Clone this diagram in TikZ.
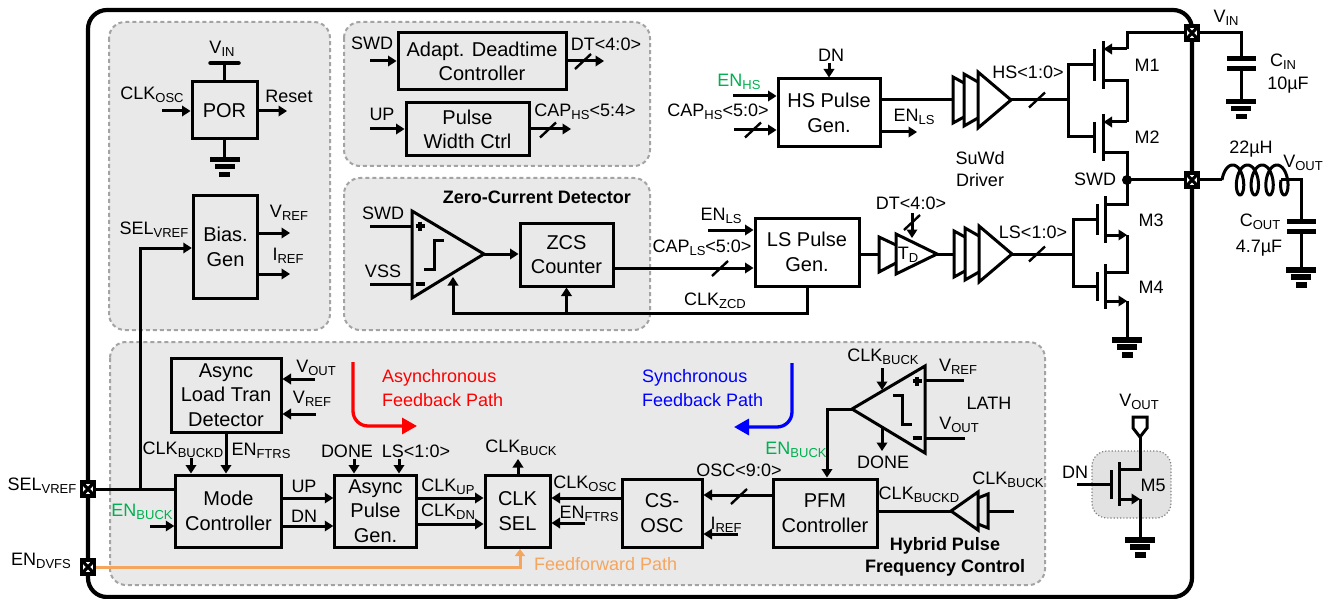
\documentclass[tikz,border=0pt]{standalone}
\usepackage{fontspec}
\setmainfont{Liberation Sans}
\usetikzlibrary{arrows.meta, calc}
\definecolor{panelgray}{HTML}{E9E9E9}
\definecolor{dashgray}{HTML}{A3A3A3}
\definecolor{mfivegray}{HTML}{E2E2E2}
\definecolor{engreen}{HTML}{00B050}
\definecolor{ffwdorange}{HTML}{F6A55E}
\newcommand{\ssub}[1]{{\fontsize{13}{13}\selectfont\raisebox{-2.8pt}{#1}}}
\tikzset{
  wire/.style={line width=3pt},
  sig/.style={line width=3pt, -{Triangle[length=8.5pt,width=10.5pt]}},
  panel/.style={draw=dashgray, fill=panelgray, line width=2pt, dash pattern=on 4pt off 3pt, rounded corners=16pt},
  blockbox/.style={draw, line width=3pt, inner sep=0pt, align=center, font=\fontsize{20}{24.5}\selectfont},
  lab/.style={inner sep=0pt, align=center, font=\fontsize{18}{21.5}\selectfont},
  boldlab/.style={inner sep=0pt, align=center, font=\fontsize{18}{22}\selectfont\bfseries},
  padbox/.style={draw, fill=white, line width=3.2pt, minimum width=13pt, minimum height=14pt, inner sep=0pt,
    path picture={\draw[line width=3.2pt] (path picture bounding box.north west) -- (path picture bounding box.south east)
      (path picture bounding box.north east) -- (path picture bounding box.south west);}},
  gndsym/.pic={
    \fill (-15,0) rectangle (15,5.5);
    \fill (-10,7) rectangle (10,12.5);
    \fill (-5.5,15) rectangle (5.5,20.5);
  },
  busmark/.pic={\draw[line width=2.4pt] (-8,7.5) -- (8,-7.5);},
  capsym/.pic={
    \fill (-14.5,-2.5) rectangle (14.5,2.5);
    \fill (-14.5,7.5) rectangle (14.5,12.5);
  },
  drivbuf/.pic={
    \draw[wire, line join=miter] (-33,-28) -- (0,0) -- (-33,28) -- cycle;
    \draw[wire] (-33,-18) -- (-47,-26) -- (-47,26) -- (-33,18);
    \draw[wire] (-47,-17) -- (-58,-23) -- (-58,23) -- (-47,17);
  },
}
\begin{document}
\begin{tikzpicture}[x=1pt, y=-1pt]
  \useasboundingbox (0,0) rectangle (1326,599);
  % chip outline and shaded groups
  \draw[line width=4.2pt, rounded corners=19pt] (88,10) rectangle (1192,597);
  \draw[panel] (109,22) rectangle (330,330);
  \draw[panel] (344,22) rectangle (650,166);
  \draw[panel] (344,178) rectangle (650,330);
  \draw[panel] (110,342) rectangle (1045,585);
  \draw[draw=gray, fill=mfivegray, line width=1.2pt, dotted, rounded corners=15pt] (1092,451) rectangle (1171,518);

  % blocks
  \foreach \name/\cx/\cy/\bw/\bh/\txt in {
    por/224.5/110.5/65/57/{POR},
    bias/225.5/247/64.5/102/{Bias.\\Gen},
    adapt/482/61.5/168/57/{Adapt. Deadtime\\Controller},
    pulsewd/467.5/129.5/123/53/{Pulse\\Width Ctrl},
    zcs/566.5/254.5/93/63/{ZCS\\Counter},
    hspulse/829/113/102/68/{HS Pulse\\Gen.},
    lspulse/807/252/104/68/{LS Pulse\\Gen.},
    loaddet/226/395/110/74/{Async\\Load Tran\\Detector},
    mode/228.5/511/105.5/72/{Mode\\Controller},
    asyncgen/375.5/511/81.5/72/{Async\\Pulse\\Gen.},
    clksel/517.5/511/65/72/{CLK\\SEL},
    csosc/662/513/80/68/{CS-\\OSC},
    pfm/825/513/104/68/{PFM\\Controller}}{
    \node[blockbox, minimum width=\bw pt, minimum height=\bh pt] (\name) at (\cx,\cy) {\txt};
  }

  % free ends and turning points
  \foreach \name/\x/\y in {
    cVinBar/224.5/63, cPorGnd/224.5/157, cClkOsc/162/111, cReset/287/111,
    cBiasIn/140/248, cVref/290/233, cIref/290/274,
    cAdSwd/370/61, cAdDt/604/61, cPwUp/370/129, cPwCap/571/129,
    cCmpP/370/226, cCmpPi/412/226, cCmpM/370/284, cCmpMi/412/284, cCmpTip/484/254,
    cZcsOut/613/268, cZcdLow/807/313, cZcdCmp/453/313, cZcdUp/453/277, cZcdZcs/566.5/313,
    cLsEn/708/230, cHsDn/829/63, cHsEn/733/96, cHsCap/734/130, cHsEnLs/917/132, cHsOut/880/100,
    cHsDrv/1011/100, cHsGate/1068/100, cLsOut/859/254, cTdIn/879/254, cTdTip/937/254, cLsDrvIn/954/254,
    cLsDrv/1012/254, cLsGate/1073/254, cDtTop/912/213, cDtEnd/912/238,
    cVoutLd/315/379, cVrefLd/316/414, cBuckd/191/458, cModeIn/140/489, cEnBuck/150/526,
    cDone/354/459, cLsIn/399/459, cUp/281/498, cDn/281/526, cClkUp/416/498, cClkDn/416/524,
    cClkBuck/518/459, cOscSel/702/498, cFtrs/585/523, cPfmOsc/773/495, cIrefIn/738/534,
    cFfCorner/520/567, cFfEnd/520/549,
    cLatTip/852/409, cLatTurn/827/409, cLatRef/964/380, cLatRefi/925/380, cLatOut/965/438, cLatOuti/925/438,
    cLatClk/882/368, cLatClkE/882/390, cLatDone/882/428, cLatDoneE/882/451,
    cPfmEast/877/511, cBufTip/951/511, cBufIn/988/511, cBufEnd/1014/511,
    cCinTop/1241/33, cCin/1241/59, cCinGnd/1241/99, cLa/1222/180, cLb/1281/180, cCoutTop/1301/180, cCout/1301/221, cCoutGnd/1301/267,
    cMfGate/1077/484, cMfGatei/1111/484}{
    \coordinate (\name) at (\x,\y);
  }

  % pads on the chip edge
  \node[padbox] (padsel) at (88,489) {};
  \node[padbox] (paddvfs) at (88,567) {};
  \node[padbox] (padvin) at (1192,33) {};
  \node[padbox] (padswd) at (1192,180) {};

  % power on reset and bias
  \draw[wire] (por.north) -- (cVinBar);
  \draw[line width=4.5pt, line cap=round] ($(cVinBar)+(-14,0)$) -- ($(cVinBar)+(14,0)$);
  \draw[wire] (por.south) -- (cPorGnd);
  \pic at (cPorGnd) {gndsym};
  \draw[sig] (cClkOsc) -- (por.west |- cClkOsc);
  \draw[sig] (por.east |- cReset) -- (cReset);
  \draw[sig] (cModeIn) -- (cBiasIn) -- (bias.west |- cBiasIn);
  \draw[sig] (bias.east |- cVref) -- (cVref);
  \draw[sig] (bias.east |- cIref) -- (cIref);

  % deadtime and pulse width
  \draw[sig] (cAdSwd) -- (adapt.west |- cAdSwd);
  \draw[sig] (adapt.east |- cAdDt) -- (cAdDt);
  \pic at (583,61.5) {busmark};
  \draw[sig] (cPwUp) -- (pulsewd.west |- cPwUp);
  \draw[sig] (pulsewd.east |- cPwCap) -- (cPwCap);
  \pic at (548,130) {busmark};

  % zero current detector
  \draw[wire, line join=miter] (412,211) -- (cCmpTip) -- (412,298) -- cycle;
  \draw[wire] (424,269) -- (434,269) -- (434,240) -- (444,240);
  \draw[line width=3.4pt] (415.5,226) -- (424.5,226) (420,221.5) -- (420,230.5);
  \draw[line width=3.4pt] (415.5,284) -- (424.5,284);
  \draw[wire] (cCmpP) -- (cCmpPi);
  \draw[wire] (cCmpM) -- (cCmpMi);
  \draw[sig] (cCmpTip) -- (zcs.west |- cCmpTip);
  \draw[sig] (cZcsOut) -- (lspulse.west |- cZcsOut);
  \pic at (720,268.5) {busmark};
  \draw[sig] (lspulse.south -| cZcdLow) -- (cZcdLow) -- (cZcdCmp) -- (cZcdUp);
  \draw[sig] (cZcdZcs) -- (zcs.south);

  % high side and low side pulse generators
  \draw[sig] (cHsDn) -- (hspulse.north);
  \draw[sig] (cHsEn) -- (hspulse.west |- cHsEn);
  \draw[sig] (cHsCap) -- (hspulse.west |- cHsCap);
  \pic at (753,130) {busmark};
  \draw[sig] (hspulse.east |- cHsEnLs) -- (cHsEnLs);
  \draw[wire] (cHsOut) -- ($(cHsDrv)+(-58,0)$);
  \pic at (cHsDrv) {drivbuf};
  \draw[wire] (cHsDrv) -- (cHsGate);
  \pic at (1037,100) {busmark};
  \draw[sig] (cLsEn) -- (lspulse.west |- cLsEn);
  \draw[wire] (cLsOut) -- (cTdIn);
  \draw[wire, line join=miter] (896,234) -- (cTdTip) -- (896,274) -- cycle;
  \draw[wire] (896,245) -- (879,237) -- (879,272) -- (896,263);
  \draw[sig] (cDtTop) -- (cDtEnd);
  \pic at (912,222.5) {busmark};
  \draw[wire] (cTdTip) -- (cLsDrvIn);
  \pic at (cLsDrv) {drivbuf};
  \draw[wire] (cLsDrv) -- (cLsGate);
  \pic at (1037,254) {busmark};

  % power stage
  \foreach \gx/\cx/\gy/\ya/\yb in {1094/1103/65/49/81, 1094/1103/137/122/153, 1097/1105/219/204/235, 1097/1105/286/272/301}{
    \draw[line width=3pt] (\gx,\ya) -- (\gx,\yb);
    \draw[line width=3pt] (\cx,\ya-8) -- (\cx,\yb+8);
  }
  \draw[wire] (1094,65) -- (1068,65) -- (1068,137) -- (1094,137);
  \draw[wire] (1097,219) -- (1073,219) -- (1073,286) -- (1097,286);
  \draw[wire] (padvin) -- (1127,33) -- (1127,49);
  \draw[sig] (1127,49) -- (1103.5,49);
  \draw[wire] (1103,81) -- (1127,81) -- (1127,122);
  \draw[sig] (1127,122) -- (1103.5,122);
  \draw[wire] (1103,153) -- (1127,153) -- (1127,204) -- (1105,204);
  \draw[sig] (1105,235) -- (1127,235);
  \draw[wire] (1127,235) -- (1127,272) -- (1105,272);
  \draw[sig] (1105,301) -- (1127,301);
  \draw[wire] (1127,301) -- (1127,337);
  \pic at (1127,337) {gndsym};
  \fill (1127,180) circle (5pt) coordinate (swdnode);
  \draw[wire] (swdnode) -- (padswd);

  % input and output filter
  \draw[wire] (padvin) -- (cCinTop) -- (cCin);
  \pic at (cCin) {capsym};
  \draw[wire] (1241,69) -- (cCinGnd);
  \pic at (cCinGnd) {gndsym};
  \draw[wire] (padswd) -- (cLa);
  \begin{scope}[shift={(cLa)}]
    \draw[wire, line join=round] plot[smooth, domain=0:1440, samples=161, variable=\t] ({7+0.04097*\t-7*cos(\t)},{-15*sin(\t)});
  \end{scope}
  \draw[wire] (cLb) -- (cCoutTop) -- (cCout);
  \pic at (cCout) {capsym};
  \draw[wire] (1301,231) -- (cCoutGnd);
  \pic at (cCoutGnd) {gndsym};

  % pulse frequency control
  \draw[wire] (padsel) -- (mode.west |- padsel);
  \draw[sig] (cVoutLd) -- (loaddet.east |- cVoutLd);
  \draw[sig] (cVrefLd) -- (loaddet.east |- cVrefLd);
  \draw[sig] (loaddet.south) -- (mode.north -| loaddet.south);
  \draw[sig] (cBuckd) -- (mode.north -| cBuckd);
  \draw[sig] (cEnBuck) -- (mode.west |- cEnBuck);
  \draw[sig] (mode.east |- cUp) -- (asyncgen.west |- cUp);
  \draw[sig] (mode.east |- cDn) -- (asyncgen.west |- cDn);
  \draw[sig] (cDone) -- (asyncgen.north -| cDone);
  \draw[sig] (cLsIn) -- (asyncgen.north -| cLsIn);
  \draw[sig] (asyncgen.east |- cClkUp) -- (clksel.west |- cClkUp);
  \draw[sig] (asyncgen.east |- cClkDn) -- (clksel.west |- cClkDn);
  \draw[sig] (clksel.north -| cClkBuck) -- (cClkBuck);
  \draw[sig] (csosc.west |- cOscSel) -- (clksel.east |- cOscSel);
  \draw[sig] (cFtrs) -- (clksel.east |- cFtrs);
  \draw[sig] (cPfmOsc) -- (csosc.east |- cPfmOsc);
  \pic at (739,496.5) {busmark};
  \draw[sig] (cIrefIn) -- (csosc.east |- cIrefIn);
  \draw[wire, ffwdorange, -{Triangle[length=7pt,width=10pt]}] (paddvfs) -- (cFfCorner) -- (cFfEnd);

  % latch comparator
  \draw[wire, line join=miter] (cLatTip) -- (925,366) -- (925,453) -- cycle;
  \draw[wire] (893,395) -- (902,395) -- (902,424) -- (912,424);
  \draw[line width=3.4pt] (912.5,381) -- (921.5,381) (917,376.5) -- (917,385.5);
  \draw[line width=3.4pt] (912.5,438) -- (921.5,438);
  \draw[wire] (cLatRefi) -- (cLatRef);
  \draw[wire] (cLatOuti) -- (cLatOut);
  \draw[sig] (cLatClk) -- (cLatClkE);
  \draw[sig] (cLatDone) -- (cLatDoneE);
  \draw[sig] (cLatTip) -- (cLatTurn) -- (pfm.north -| cLatTurn);
  \draw[wire] (pfm.east |- cPfmEast) -- (cBufTip);
  \draw[wire, line join=miter] (cBufTip) -- (978,492) -- (978,530) -- cycle;
  \draw[wire] (978,498) -- (988,494) -- (988,528) -- (978,524);
  \draw[wire] (cBufIn) -- (cBufEnd);

  % feedback path arrows
  \coordinate (cRedStart) at (353,362);
  \coordinate (cRedEnd) at (417,426);
  \coordinate (cBlueStart) at (792,363);
  \coordinate (cBlueEnd) at (734,427);
  \draw[red, line width=3.3pt, rounded corners=15pt, -{Triangle[length=15pt,width=16pt]}] (cRedStart) -- (cRedStart |- cRedEnd) -- (cRedEnd);
  \draw[blue, line width=3.3pt, rounded corners=15pt, -{Triangle[length=15pt,width=16pt]}] (cBlueStart) -- (cBlueStart |- cBlueEnd) -- (cBlueEnd);

  % M5
  \draw[wire] (1147,417) -- (1133,417) -- (1133,428) -- (1140,437) -- (1147,428) -- cycle;
  \draw[wire] (1140,437) -- (1140,469) -- (1119,469);
  \draw[line width=3pt] (1119,462) -- (1119,506);
  \draw[line width=3pt] (1111,470) -- (1111,499);
  \draw[wire] (cMfGate) -- (cMfGatei);
  \draw[sig] (1119,499) -- (1140,499);
  \draw[wire] (1140,499) -- (1140,537);
  \pic at (1140,537) {gndsym};

  % labels
  \foreach \name/\x/\y/\txt in {
    lVin/222/49/{V\ssub{IN}}, lClkOsc/152/95/{CLK\ssub{OSC}}, lReset/289/96/{Reset},
    lSel/154/230/{SEL\ssub{VREF}}, lVref/289/213/{V\ssub{REF}}, lIref/288/256/{I\ssub{REF}},
    lSwdA/372/43/{SWD}, lDt/606/44/{DT<4:0>}, lUpA/382/114/{UP}, lCapFour/585/112/{CAP\ssub{HS}<5:4>},
    lSwdB/383/213/{SWD}, lVss/383/271/{VSS}, lEnLsA/721/216/{EN\ssub{LS}}, lCapLs/702/248/{CAP\ssub{LS}<5:0>},
    lClkZcd/715/301/{CLK\ssub{ZCD}}, lDnA/831/55/{DN}, lCapHs/718/112/{CAP\ssub{HS}<5:0>},
    lEnLsB/914/117/{EN\ssub{LS}}, lHs/1028/72/{HS<1:0>}, lDtB/911/203/{DT<4:0>}, lTd/908/255/{T\ssub{D}},
    lLs/1033/232/{LS<1:0>}, lSuwd/980/169/{SuWd\\Driver}, lSwdC/1095/179/{SWD},
    lMa/1147/65/{M1}, lMb/1147/137/{M2}, lMc/1151/220/{M3}, lMd/1151/287/{M4},
    lVinB/1226/18/{V\ssub{IN}}, lCin/1283/62/{C\ssub{IN}}, lCinV/1288/85/{10µF}, lInd/1251/149/{22µH},
    lVoutB/1303/163/{V\ssub{OUT}}, lCout/1260/222/{C\ssub{OUT}}, lCoutV/1259/248/{4.7µF},
    lVoutC/316/368/{V\ssub{OUT}}, lVrefC/312/399/{V\ssub{REF}}, lBuckd/183/450/{CLK\ssub{BUCKD}}, lFtrs/261/451/{EN\ssub{FTRS}},
    lSelPad/42/486/{SEL\ssub{VREF}}, lDvfs/41/561/{EN\ssub{DVFS}}, lDone/347/451/{DONE}, lLsB/416/451/{LS<1:0>},
    lUpB/304/486/{UP}, lDnB/304/516/{DN}, lClkUp/448/487/{CLK\ssub{UP}}, lClkDn/448/512/{CLK\ssub{DN}},
    lClkBuck/521/448/{CLK\ssub{BUCK}}, lClkOscB/585/484/{CLK\ssub{OSC}}, lFtrsB/589/514/{EN\ssub{FTRS}},
    lOsc/739/470/{OSC<9:0>}, lIrefB/726/525/{I\ssub{REF}}, lBuckB/883/357/{CLK\ssub{BUCK}}, lDoneB/883/462/{DONE},
    lVrefD/958/367/{V\ssub{REF}}, lVoutD/959/425/{V\ssub{OUT}}, lLath/989/403/{LATH},
    lBuckdB/919/495/{CLK\ssub{BUCKD}}, lBuckC/1008/480/{CLK\ssub{BUCK}},
    lVoutE/1139/402/{V\ssub{OUT}}, lDnC/1075/472/{DN}, lMe/1153/485/{M5}}{
    \node[lab] (\name) at (\x,\y) {\txt};
  }
  \node[lab, engreen] (lEnHs) at (739,82) {EN\ssub{HS}};
  \node[lab, engreen] (lEnBuck) at (142,512) {EN\ssub{BUCK}};
  \node[lab, engreen] (lEnBuckB) at (796,450) {EN\ssub{BUCK}};
  \node[lab, ffwdorange, anchor=west] (lFfwd) at (534,564) {Feedforward Path};
  \node[lab, red, anchor=west] (lRedA) at (382,378) {Asynchronous};
  \node[lab, red, anchor=west] (lRedB) at (382,400) {Feedback Path};
  \node[lab, blue, anchor=west] (lBlueA) at (642,378) {Synchronous};
  \node[lab, blue, anchor=west] (lBlueB) at (642,400) {Feedback Path};
  \node[boldlab] (lZcd) at (537,197) {Zero-Current Detector};
  \node[boldlab] (lHybrid) at (945,557) {Hybrid Pulse\\Frequency Control};
\end{tikzpicture}
\end{document}
